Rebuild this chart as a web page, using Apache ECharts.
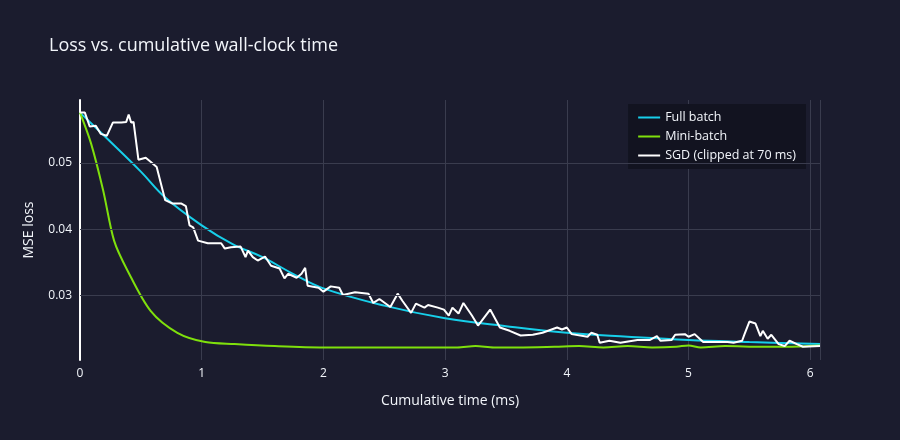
<!DOCTYPE html>
<html><head><meta charset="utf-8">
<script src="https://cdn.jsdelivr.net/npm/echarts@6/dist/echarts.min.js"></script>
<style>html,body{margin:0;background:#1b1c2e}#c{width:900px;height:440px}</style>
</head><body><div id="c"></div>
<script>
const fullX=[0,0.25,0.5,0.7,1,1.25,1.5,1.75,2,2.5,3,3.5,4,4.5,5,5.5,6.08];
const fullY=[0.0576,0.0532,0.0487,0.0448,0.0406,0.0378,0.0358,0.0333,0.0311,0.0285,0.0266,0.0254,0.0244,0.0238,0.0233,0.0230,0.0227];
const miniX=[0,0.09,0.19,0.28,0.39,0.58,0.8,1.03,1.27,1.6,2,2.5,2.9,3.1,3.25,3.4,3.6,3.9,4.1,4.3,4.5,4.7,4.9,5.0,5.1,5.3,5.6,5.8,6.08];
const miniY=[0.0576,0.0530,0.0459,0.0383,0.0338,0.0277,0.0244,0.0230,0.0227,0.0224,0.0222,0.0222,0.0222,0.0222,0.0224,0.0222,0.0222,0.0223,0.0224,0.0222,0.0224,0.0222,0.0223,0.0225,0.0222,0.0224,0.0223,0.0223,0.0225];
const sgdX=[0,0.04,0.08,0.13,0.17,0.22,0.27,0.34,0.38,0.40,0.42,0.44,0.48,0.54,0.58,0.63,0.70,0.76,0.83,0.87,0.90,0.93,0.97,1.05,1.16,1.19,1.24,1.32,1.36,1.38,1.42,1.46,1.52,1.57,1.64,1.68,1.71,1.78,1.82,1.85,1.87,1.96,2.0,2.06,2.13,2.16,2.26,2.37,2.41,2.46,2.55,2.61,2.65,2.72,2.76,2.83,2.86,2.94,2.99,3.03,3.06,3.11,3.15,3.22,3.27,3.30,3.37,3.45,3.53,3.62,3.72,3.80,3.92,3.96,4.0,4.04,4.17,4.2,4.25,4.27,4.35,4.44,4.58,4.68,4.74,4.77,4.86,4.89,4.97,5.0,5.05,5.12,5.32,5.37,5.44,5.46,5.5,5.55,5.59,5.61,5.65,5.68,5.74,5.79,5.83,5.89,5.94,6.08];
const sgdY=[0.0576,0.0576,0.0555,0.0556,0.0544,0.0541,0.0561,0.0561,0.0562,0.0573,0.0561,0.0562,0.0505,0.0508,0.0502,0.0494,0.0444,0.0439,0.0439,0.0435,0.0406,0.0403,0.0383,0.0379,0.0379,0.0371,0.0373,0.0374,0.0358,0.0368,0.0358,0.0353,0.0359,0.0345,0.0341,0.0326,0.0333,0.0327,0.0333,0.0342,0.0315,0.0312,0.0306,0.0314,0.0312,0.0301,0.0305,0.0303,0.0289,0.0295,0.0283,0.0303,0.0292,0.0274,0.0288,0.0282,0.0286,0.0282,0.0279,0.0270,0.0282,0.0273,0.0289,0.0270,0.0255,0.0262,0.0279,0.0252,0.0247,0.0240,0.0241,0.0244,0.0252,0.0249,0.0252,0.0242,0.0238,0.0244,0.0241,0.0229,0.0232,0.0229,0.0233,0.0233,0.0239,0.0232,0.0233,0.0241,0.0242,0.0238,0.0242,0.0230,0.0230,0.0229,0.0232,0.0242,0.0261,0.0258,0.0239,0.0247,0.0235,0.0241,0.0227,0.0224,0.0232,0.0227,0.0223,0.0224];
const yTicks=[0.03,0.04,0.05];
const xTicks=[0,1,2,3,4,5,6];
const zip=(a,b)=>a.map((v,i)=>[v,b[i]]);
const font='"Open Sans", sans-serif';
const ch=echarts.init(document.getElementById('c'));
ch.setOption({
  backgroundColor:'#1b1c2e',
  textStyle:{fontFamily:font},
  title:{text:'Loss vs. cumulative wall-clock time',left:44,top:32,textStyle:{color:'#f2f5fa',fontSize:18,fontWeight:'normal',fontFamily:font}},
  legend:{orient:'vertical',right:94,top:104,backgroundColor:'#121320',padding:[7,10,7,10],itemGap:6,itemWidth:22,itemHeight:2,
    icon:'rect',textStyle:{color:'#f2f5fa',fontSize:12.5,fontFamily:font},data:['Full batch','Mini-batch','SGD (clipped at 70 ms)']},
  grid:{left:80,right:80,top:100,bottom:80},
  xAxis:{type:'value',min:0,max:6.08,interval:1,name:'Cumulative time (ms)',nameLocation:'middle',nameGap:34,
    nameTextStyle:{color:'#f2f5fa',fontSize:14},
    axisLine:{show:false},axisTick:{show:false},
    axisLabel:{color:'#f2f5fa',fontSize:12,formatter:v=>xTicks.includes(v)?String(v):''},
    splitLine:{lineStyle:{color:'#3a3c4e',width:1}}},
  yAxis:{type:'value',min:0.0203,max:0.0595,name:'MSE loss',nameLocation:'middle',nameGap:44,
    nameTextStyle:{color:'#f2f5fa',fontSize:14},
    axisLine:{show:true,onZero:false,lineStyle:{color:'#ffffff',width:2}},axisTick:{show:false},
    splitLine:{show:false},
    axisLabel:{color:'#f2f5fa',fontSize:12,customValues:yTicks,formatter:v=>v.toFixed(2)}},
  series:[
    {name:'Full batch',type:'line',data:zip(fullX,fullY),smooth:0.4,showSymbol:false,lineStyle:{color:'#17cfea',width:2},itemStyle:{color:'#17cfea'},
      markLine:{silent:true,symbol:'none',label:{show:false},lineStyle:{color:'#3a3c4e',width:1,type:'solid'},data:yTicks.map(v=>({yAxis:v}))},z:2},
    {name:'Mini-batch',type:'line',data:zip(miniX,miniY),smooth:0.3,showSymbol:false,lineStyle:{color:'#7fe00c',width:2},itemStyle:{color:'#7fe00c'},z:3},
    {name:'SGD (clipped at 70 ms)',type:'line',data:zip(sgdX,sgdY),showSymbol:false,lineStyle:{color:'#ffffff',width:2},itemStyle:{color:'#ffffff'},z:4}
  ]
});
</script></body></html>
